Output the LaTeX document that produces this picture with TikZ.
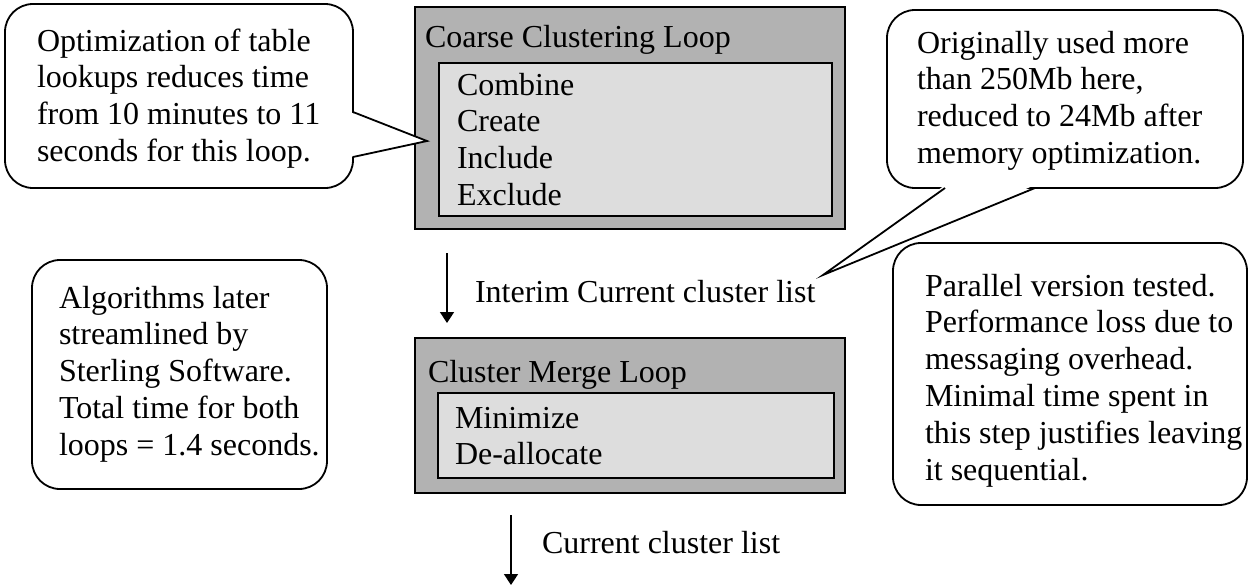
\documentclass[tikz,border=0pt]{standalone}
\usepackage{fontspec}
\setmainfont{Liberation Serif}
\usetikzlibrary{arrows.meta,calc}
\definecolor{outergray}{RGB}{178,178,178}
\definecolor{innergray}{RGB}{221,221,221}
\newcommand{\textlines}[1]{\vtop{\baselineskip=36.8pt\lineskiplimit=-100pt\lineskip=0pt\relax #1}}
\begin{document}
\begin{tikzpicture}[x=1pt,y=-1pt,
  every node/.style={inner sep=0pt, outer sep=0pt},
  calloutbox/.style={draw, line width=1.8pt, rounded corners=28pt, fill=white, anchor=north west},
  outerbox/.style={draw, line width=1.6pt, fill=outergray, anchor=north west},
  innerbox/.style={draw, line width=1.6pt, fill=innergray, anchor=north west},
  txt/.style={anchor=base west, font=\fontsize{32}{36.8}\selectfont},
  flow/.style={line width=1.6pt, -{Triangle[width=14pt,length=11pt]}},
  pointer/.style={line width=1.8pt, line join=miter}]
\fill[white] (0,0) rectangle (1251,587);
\useasboundingbox (0,0) rectangle (1251,587);

% Coarse clustering loop
\node[outerbox, minimum width=430pt, minimum height=222pt] (coarse) at (415,7) {};
\node[innerbox, minimum width=393pt, minimum height=153pt] (coarsein) at (439,63) {};
\node[txt] (coarsetitle) at (425,47) {Coarse Clustering Loop};
\node[txt] (coarseitems) at (457,95) {\textlines{\hbox{Combine}\hbox{Create}\hbox{Include}\hbox{Exclude}}};

% Cluster merge loop
\node[outerbox, minimum width=430pt, minimum height=155pt] (merge) at (415,338) {};
\node[innerbox, minimum width=396pt, minimum height=85pt] (mergein) at (438,393) {};
\node[txt] (mergetitle) at (428,382) {Cluster Merge Loop};
\node[txt] (mergeitems) at (455,428) {\textlines{\hbox{Minimize}\hbox{De-allocate}}};

% Arrows
\coordinate (a1s) at (447,253);
\coordinate (a1e) at (447,323);
\draw[flow] (a1s) -- (a1e);
\node[txt] (lab1) at (475,302) {Interim Current cluster list};
\coordinate (a2s) at (511,515);
\coordinate (a2e) at (511,585);
\draw[flow] (a2s) -- (a2e);
\node[txt] (lab2) at (542,553) {Current cluster list};

% Callout 1
\node[calloutbox, minimum width=348pt, minimum height=184pt] (c1) at (5,4) {};
\coordinate (c1tip) at (427,141);
\coordinate (c1a) at (353,112);
\coordinate (c1b) at (353,157);
\fill[white] ($(c1a)+(-3,0)$) -- (c1tip) -- ($(c1b)+(-3,0)$) -- cycle;
\draw[pointer] (c1a) -- (c1tip) -- (c1b);
\node[txt] (c1text) at (37,51) {\textlines{\hbox{Optimization of table}\hbox{lookups reduces time}\hbox{from 10 minutes to 11}\hbox{seconds for this loop.}}};

% Callout 2
\node[calloutbox, minimum width=295pt, minimum height=229pt] (c2) at (32,260) {};
\node[txt] (c2text) at (59,308) {\textlines{\hbox{Algorithms later}\hbox{streamlined by}\hbox{Sterling Software.}\hbox{Total time for both}\hbox{loops = 1.4 seconds.}}};

% Callout 3
\node[calloutbox, minimum width=356pt, minimum height=178pt] (c3) at (887,10) {};
\coordinate (c3tip) at (823,275);
\coordinate (c3a) at (945,188);
\coordinate (c3b) at (1035,188);
\fill[white] ($(c3a)+(0,-3)$) -- (c3tip) -- ($(c3b)+(0,-3)$) -- cycle;
\draw[pointer] (c3a) -- (c3tip) -- (c3b);
\node[txt] (c3text) at (917,53) {\textlines{\hbox{Originally used more}\hbox{than 250Mb here,}\hbox{reduced to 24Mb after}\hbox{memory optimization.}}};

% Callout 4
\node[calloutbox, minimum width=354pt, minimum height=262pt] (c4) at (893,243) {};
\node[txt] (c4text) at (925,296) {\textlines{\hbox{Parallel version tested.}\hbox{Performance loss due to}\hbox{messaging overhead.}\hbox{Minimal time spent in}\hbox{this step justifies leaving}\hbox{it sequential.}}};
\end{tikzpicture}
\end{document}
